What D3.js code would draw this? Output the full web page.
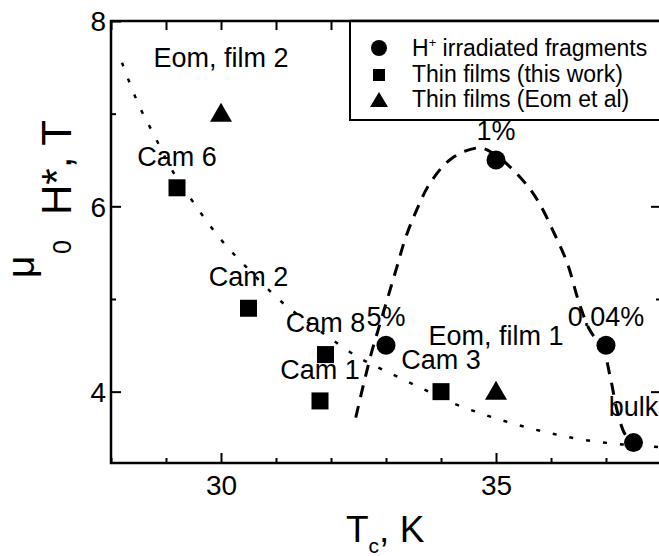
<!doctype html>
<html lang="en">
<head>
<meta charset="utf-8">
<title>Hc2 vs Tc</title>
<script src="https://cdn.jsdelivr.net/npm/d3@7"></script>
<style>
	body { margin: 0; background: #fff; }
	svg { display: block; font-family: "Liberation Sans", Arial, sans-serif; }
</style>
</head>
<body>
<svg id="chart" width="659" height="556"></svg>
<script>
// H+ irradiated fragments
var fragTc = [33, 35, 37, 37.5];
var fragH = [4.5, 6.5, 4.5, 3.45];
var fragLabels = ["5%", "1%", "0.04%", "bulk"];
// thin films (this work)
var filmTc = [29.2, 30.5, 31.9, 31.8, 34];
var filmH = [6.2, 4.9, 4.4, 3.9, 4.0];
var filmLabels = ["Cam 6", "Cam 2", "Cam 8", "Cam 1", "Cam 3"];
// thin films (Eom et al)
var eomTc = [35, 30];
var eomH = [4.0, 7.0];
var eomLabels = ["Eom, film 1", "Eom, film 2"];
// guide curves
var dotCurveTc = [28.2, 28.5, 28.8, 29.1, 29.5, 30.0, 30.5, 31.1, 31.6, 32.0, 32.5, 33.0, 33.6, 34.2, 34.8, 35.4, 36.0, 36.6, 37.3, 38.0];
var dotCurveH = [7.55, 7.1, 6.75, 6.4, 6.04, 5.64, 5.32, 4.97, 4.74, 4.57, 4.37, 4.22, 4.05, 3.88, 3.75, 3.64, 3.55, 3.48, 3.43, 3.4];
var dashCurveTc = [32.45, 32.6, 32.75, 32.9, 33.05, 33.2, 33.35, 33.55, 33.8, 34.2, 34.7, 35.0, 35.3, 35.6, 35.8, 36.05, 36.3, 36.5, 36.7, 36.95, 37.08, 37.2, 37.32, 37.45];
var dashCurveH = [3.72, 4.1, 4.45, 4.75, 5.05, 5.35, 5.65, 5.95, 6.25, 6.52, 6.63, 6.55, 6.4, 6.2, 6.02, 5.72, 5.38, 4.98, 4.67, 4.45, 4.15, 3.8, 3.57, 3.45];
var xTicks = [30, 35];
var yTicks = [4, 6, 8];
var legendLabels = ["irradiated fragments", "Thin films (this work)", "Thin films (Eom et al)"];

(function() {
	var svg = d3.select("#chart");
	var pl = 111, pr = 661, pt = 21, pb = 463;
	var x = d3.scaleLinear().domain([28, 38]).range([pl, pr]);
	var y = d3.scaleLinear().domain([3.23, 8]).range([pb, pt]);

	// axes with inward ticks on all four sides
	var minorX = d3.range(28, 39, 1).filter(function(v){ return xTicks.indexOf(v) < 0; });
	var minorY = [5, 7];

	function drawAxis(axisFn, scale, tr, vals, size, labels) {
		var g = svg.append("g").attr("transform", tr)
			.call(axisFn(scale).tickValues(vals).tickSize(size).tickSizeOuter(0)
				.tickFormat(labels ? d3.format("d") : ""));
		g.attr("font-size", 28).attr("font-family", null);
		g.select(".domain").remove();
		g.selectAll(".tick line").attr("stroke", "#000").attr("stroke-width", 2);
		g.selectAll(".tick text").attr("fill", "#000");
		return g;
	}
	var bx = drawAxis(d3.axisBottom, x, "translate(0," + pb + ")", xTicks, -10, true);
	bx.selectAll(".tick text").attr("y", 12).attr("dy", "0.71em");
	drawAxis(d3.axisBottom, x, "translate(0," + pb + ")", minorX, -5, false);
	drawAxis(d3.axisTop, x, "translate(0," + pt + ")", d3.range(28, 39, 1), -9, false);
	var ly = drawAxis(d3.axisLeft, y, "translate(" + pl + ",0)", yTicks, -10, true);
	ly.selectAll(".tick text").attr("x", -5).attr("dy", "0.35em");
	drawAxis(d3.axisLeft, y, "translate(" + pl + ",0)", minorY, -5, false);
	drawAxis(d3.axisRight, y, "translate(" + pr + ",0)", yTicks, -10, false);
	drawAxis(d3.axisRight, y, "translate(" + pr + ",0)", minorY, -5, false);

	svg.append("rect").attr("x", pl).attr("y", pt)
		.attr("width", pr - pl).attr("height", pb - pt)
		.attr("fill", "none").attr("stroke", "#000").attr("stroke-width", 2.5);

	// axis titles
	var xt = svg.append("text").attr("x", 346).attr("y", 542).attr("font-size", 37);
	xt.append("tspan").text("T");
	xt.append("tspan").attr("font-size", 21).attr("dy", 11).text("c");
	xt.append("tspan").attr("dy", -11).text(", K");

	var yt = svg.append("text").attr("transform", "translate(71,278) rotate(-90)").attr("font-size", 42);
	yt.append("tspan").attr("x", 0).attr("y", -37).attr("font-size", 39).text("\u03bc");
	yt.append("tspan").attr("x", 24).attr("y", 0).attr("font-size", 25).text("0");
	yt.append("tspan").attr("x", 63).attr("y", 0).text("H*, T");

	// guide curves
	var line = d3.line().curve(d3.curveCatmullRom.alpha(0.5))
		.x(function(d){ return x(d[0]); }).y(function(d){ return y(d[1]); });
	svg.append("path").attr("d", line(d3.zip(dotCurveTc, dotCurveH)))
		.attr("fill", "none").attr("stroke", "#000").attr("stroke-width", 2.5)
		.attr("stroke-dasharray", "4,13");
	svg.append("path").attr("d", line(d3.zip(dashCurveTc, dashCurveH)))
		.attr("fill", "none").attr("stroke", "#000").attr("stroke-width", 3)
		.attr("stroke-dasharray", "12,9");

	// markers
	var tri = "M0,-11L11,8L-11,8Z";
	svg.append("g").selectAll("circle").data(d3.zip(fragTc, fragH)).enter().append("circle")
		.attr("cx", function(d){ return x(d[0]); }).attr("cy", function(d){ return y(d[1]); })
		.attr("r", 9.5).attr("fill", "#000");
	svg.append("g").selectAll("rect").data(d3.zip(filmTc, filmH)).enter().append("rect")
		.attr("x", function(d){ return x(d[0]) - 8.5; }).attr("y", function(d){ return y(d[1]) - 8.5; })
		.attr("width", 17).attr("height", 17).attr("fill", "#000");
	svg.append("g").selectAll("path").data(d3.zip(eomTc, eomH)).enter().append("path")
		.attr("transform", function(d){ return "translate(" + x(d[0]) + "," + y(d[1]) + ")"; })
		.attr("d", tri).attr("fill", "#000");

	// point labels, centred above each mark
	function labels(tc, h, names, dy) {
		svg.append("g").selectAll("text").data(names).enter().append("text")
			.attr("x", function(d, i){ return x(tc[i]); })
			.attr("y", function(d, i){ return y(h[i]) + dy[i]; })
			.attr("text-anchor", "middle").attr("font-size", 27)
			.text(function(d){ return d; });
	}
	labels(fragTc, fragH, fragLabels, [-19, -20, -19, -27]);
	labels(filmTc, filmH, filmLabels, [-22, -22, -23, -22, -23]);
	labels(eomTc, eomH, eomLabels, [-47, -47]);

	// legend
	var lg = svg.append("g");
	lg.append("rect").attr("x", 350).attr("y", pt).attr("width", 330).attr("height", 99)
		.attr("fill", "#fff").attr("stroke", "#000").attr("stroke-width", 2);
	lg.append("line").attr("x1", 350).attr("x2", 661).attr("y1", pt).attr("y2", pt)
		.attr("stroke", "#000").attr("stroke-width", 2.5);
	lg.append("circle").attr("cx", 379).attr("cy", 48).attr("r", 8).attr("fill", "#000");
	lg.append("rect").attr("x", 373).attr("y", 69).attr("width", 12).attr("height", 12).attr("fill", "#000");
	lg.append("path").attr("transform", "translate(379,101)").attr("d", "M0,-9L9,6L-9,6Z").attr("fill", "#000");
	var t0 = lg.append("text").attr("x", 412).attr("y", 56).attr("font-size", 23);
	t0.append("tspan").text("H");
	t0.append("tspan").attr("font-size", 13).attr("dy", -9).text("+");
	t0.append("tspan").attr("dy", 9).text(" " + legendLabels[0]);
	lg.append("text").attr("x", 412).attr("y", 82).attr("font-size", 23).text(legendLabels[1]);
	lg.append("text").attr("x", 412).attr("y", 107).attr("font-size", 23).text(legendLabels[2]);
})();
</script>
</body>
</html>
